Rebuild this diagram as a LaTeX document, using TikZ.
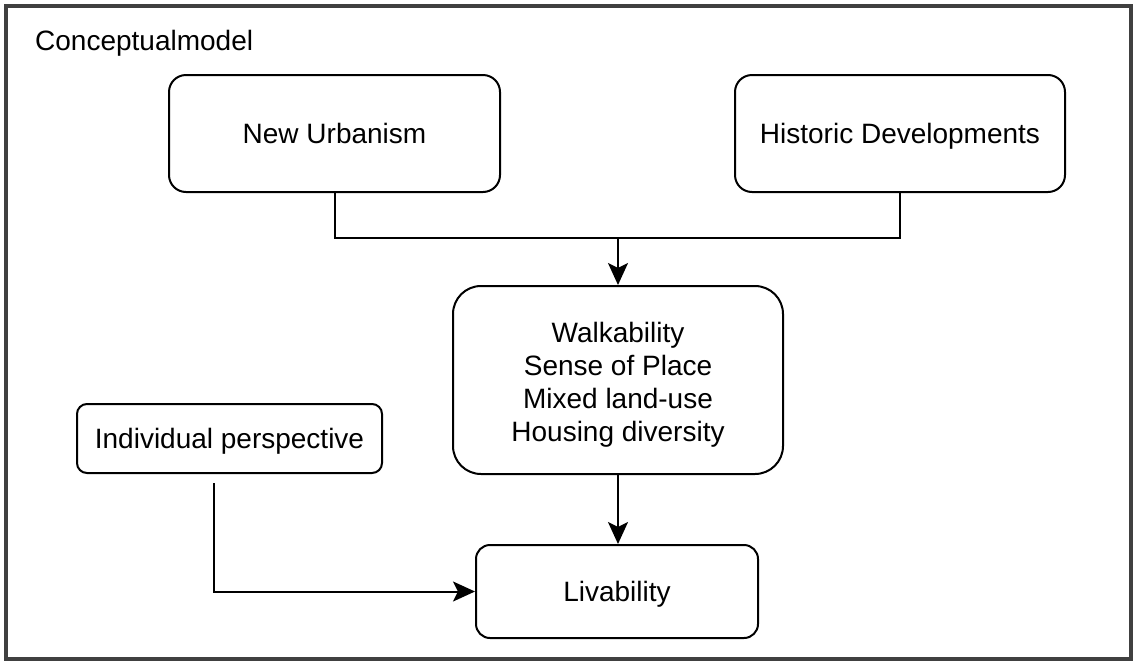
\documentclass[tikz,border=0pt]{standalone}
\usepackage{fontspec}
\setmainfont{Liberation Sans}
\usetikzlibrary{arrows.meta}
\tikzset{
  box/.style={draw=black, line width=2pt, fill=white, align=center, inner sep=0pt,
    font=\fontsize{28}{33}\selectfont, text=black, text height=20pt, text depth=0pt},
  conn/.style={draw=black, line width=2pt},
  arr/.style={conn, -{Stealth[length=22pt,width=20pt,inset=5pt]}},
}
\begin{document}
\begin{tikzpicture}[x=1pt,y=-1pt]
\useasboundingbox (0,0) rectangle (1134,662);
\fill[white] (0,0) rectangle (1134,662);
\draw[line width=4pt, draw=black!75] (5.5,5.5) rectangle (1131,659);
\node[anchor=base west, font=\fontsize{28}{33}\selectfont, text=black, inner sep=0pt] (title) at (35,50) {Conceptualmodel};

\node[box, minimum width=331pt, minimum height=117pt, rounded corners=17pt] (nu) at (334.5,133.5) {New Urbanism};
\node[box, minimum width=330pt, minimum height=117pt, rounded corners=17pt] (hd) at (900,133.5) {Historic Developments};
\node[box, minimum width=330pt, minimum height=188pt, rounded corners=28pt, text height=122pt, text depth=0pt] (mid) at (618,380) {Walkability\\Sense of Place\\Mixed land-use\\Housing diversity};
\node[box, minimum width=305pt, minimum height=69pt, rounded corners=10pt] (ip) at (229.5,438.5) {Individual perspective};
\node[box, minimum width=282pt, minimum height=93pt, rounded corners=14pt] (liv) at (617,591.5) {Livability};

\coordinate (j) at (618,238);
\coordinate (ipstart) at (214,483);
\draw[conn] (nu.south) |- (j) -| (hd.south);
\draw[arr] (j) -- (mid.north);
\draw[arr] (mid.south) -- (mid.south |- liv.north);
\draw[arr] (ipstart) |- (liv.west);
\end{tikzpicture}
\end{document}
